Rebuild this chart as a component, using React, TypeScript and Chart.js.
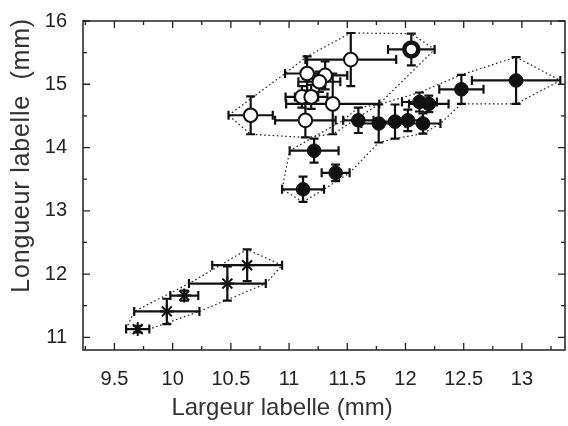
import React, { useEffect, useRef } from 'react';
import { Chart, registerables } from 'chart.js';

Chart.register(...registerables);

// ---- axis ticks and titles ----
const xTicks = [9.5, 10, 10.5, 11, 11.5, 12, 12.5, 13];
const xMinorTicks = [9.25, 9.75, 10.25, 10.75, 11.25, 11.75, 12.25, 12.75, 13.25];
const yTicks = [11, 12, 13, 14, 15, 16];
const yMinorTicks = [11.5, 12.5, 13.5, 14.5, 15.5];
const xTitle = 'Largeur labelle (mm)';
const yTitle = 'Longueur labelle  (mm)';

// ---- open circles ----
const openX = [10.67, 11.14, 11.11, 11.19, 11.155, 11.31, 11.26, 11.375, 11.53, 12.05];
const openY = [14.51, 14.43, 14.80, 14.80, 15.17, 15.14, 15.04, 14.69, 15.39, 15.55];
const openXErr = [0.19, 0.26, 0.14, 0.14, 0.19, 0.19, 0.18, 0.40, 0.39, 0.20];
const openYErr = [0.30, 0.27, 0.17, 0.19, 0.27, 0.22, 0.16, 0.48, 0.42, 0.25];
const openHeavyIndex = 9;

// ---- filled circles ----
const filledX = [11.12, 11.215, 11.40, 11.595, 11.77, 11.91, 12.02, 12.15, 12.12, 12.20, 12.48, 12.95];
const filledY = [13.34, 13.95, 13.60, 14.43, 14.38, 14.41, 14.43, 14.38, 14.72, 14.69, 14.92, 15.06];
const filledXErr = [0.18, 0.21, 0.12, 0.13, 0.15, 0.12, 0.12, 0.15, 0.15, 0.17, 0.19, 0.38];
const filledYErr = [0.20, 0.19, 0.13, 0.20, 0.30, 0.27, 0.17, 0.16, 0.15, 0.13, 0.23, 0.37];

// ---- asterisks ----
const starX = [9.70, 9.95, 10.10, 10.47, 10.64];
const starY = [11.13, 11.41, 11.66, 11.85, 12.14];
const starXErr = [0.10, 0.28, 0.12, 0.33, 0.30];
const starYErr = [0.05, 0.20, 0.08, 0.27, 0.25];

// ---- dotted envelopes: point index + error-bar end (L, R, T, B) ----
const openHull = ['0L', '4L', '4T', '8T', '9T', '9R', '7R', '7B', '1B', '0B'];
const filledHull = ['0B', '0R', '2R', '4B', '5B', '7B', '7R', '10B', '11B', '11R', '11T', '10T', '8T', '4T', '3T', '3L', '1L', '0L'];
const starHull = ['0L', '1L', '3L', '4T', '4R', '3R', '1R', '0R'];

const FONT = "'Liberation Sans', Arial, Helvetica, sans-serif";

type Group = { x: number[]; y: number[]; xe: number[]; ye: number[]; hull: string[] };
const groups: Group[] = [
  { x: openX, y: openY, xe: openXErr, ye: openYErr, hull: openHull },
  { x: filledX, y: filledY, xe: filledXErr, ye: filledYErr, hull: filledHull },
  { x: starX, y: starY, xe: starXErr, ye: starYErr, hull: starHull },
];

const toPts = (xs: number[], ys: number[]) => xs.map((v, i) => ({ x: v, y: ys[i] }));

function hullVertex(g: Group, key: string): [number, number] {
  const i = parseInt(key, 10);
  const side = key.slice(-1);
  let x = g.x[i];
  let y = g.y[i];
  if (side === 'L') x -= g.xe[i];
  if (side === 'R') x += g.xe[i];
  if (side === 'T') y += g.ye[i];
  if (side === 'B') y -= g.ye[i];
  return [x, y];
}

const zeroPad = (s: any) => {
  s.paddingLeft = 0;
  s.paddingRight = 0;
  s.paddingTop = 0;
  s.paddingBottom = 0;
};

const decorPlugin = {
  id: 'decor',
  beforeDatasetsDraw(chart: any) {
    const { ctx } = chart;
    const xs = chart.scales.x;
    const ys = chart.scales.y;
    ctx.save();
    // envelopes
    ctx.strokeStyle = '#222';
    ctx.lineWidth = 1.2;
    ctx.setLineDash([1.6, 2.6]);
    groups.forEach((g) => {
      ctx.beginPath();
      g.hull.forEach((k, j) => {
        const [vx, vy] = hullVertex(g, k);
        const px = xs.getPixelForValue(vx);
        const py = ys.getPixelForValue(vy);
        if (j === 0) ctx.moveTo(px, py);
        else ctx.lineTo(px, py);
      });
      ctx.closePath();
      ctx.stroke();
    });
    ctx.setLineDash([]);
    // error bars
    ctx.strokeStyle = '#111';
    ctx.lineWidth = 2.2;
    const cap = 4.5;
    groups.forEach((g) => {
      g.x.forEach((xv, i) => {
        const yv = g.y[i];
        const x0 = xs.getPixelForValue(xv - g.xe[i]);
        const x1 = xs.getPixelForValue(xv + g.xe[i]);
        const yc = ys.getPixelForValue(yv);
        const xc = xs.getPixelForValue(xv);
        const y0 = ys.getPixelForValue(yv - g.ye[i]);
        const y1 = ys.getPixelForValue(yv + g.ye[i]);
        ctx.beginPath();
        ctx.moveTo(x0, yc); ctx.lineTo(x1, yc);
        ctx.moveTo(x0, yc - cap); ctx.lineTo(x0, yc + cap);
        ctx.moveTo(x1, yc - cap); ctx.lineTo(x1, yc + cap);
        ctx.moveTo(xc, y0); ctx.lineTo(xc, y1);
        ctx.moveTo(xc - cap, y0); ctx.lineTo(xc + cap, y0);
        ctx.moveTo(xc - cap, y1); ctx.lineTo(xc + cap, y1);
        ctx.stroke();
      });
    });
    ctx.restore();
  },
  afterDraw(chart: any) {
    const { ctx, chartArea: a } = chart;
    const xs = chart.scales.x;
    const ys = chart.scales.y;
    ctx.save();
    ctx.strokeStyle = '#222';
    ctx.lineWidth = 1.5;
    ctx.strokeRect(a.left, a.top, a.right - a.left, a.bottom - a.top);
    ctx.lineWidth = 1.3;
    ctx.beginPath();
    const tickX = (v: number, len: number) => {
      const p = xs.getPixelForValue(v);
      ctx.moveTo(p, a.bottom); ctx.lineTo(p, a.bottom - len);
      ctx.moveTo(p, a.top); ctx.lineTo(p, a.top + len);
    };
    const tickY = (v: number, len: number) => {
      const p = ys.getPixelForValue(v);
      ctx.moveTo(a.left, p); ctx.lineTo(a.left + len, p);
      ctx.moveTo(a.right, p); ctx.lineTo(a.right - len, p);
    };
    xTicks.forEach((v) => tickX(v, 7));
    xMinorTicks.forEach((v) => tickX(v, 4));
    yTicks.forEach((v) => tickY(v, 7));
    yMinorTicks.forEach((v) => tickY(v, 4));
    ctx.stroke();

    // axis titles
    ctx.fillStyle = '#333';
    ctx.textBaseline = 'middle';
    ctx.font = `24px ${FONT}`;
    ctx.textAlign = 'center';
    ctx.fillText(xTitle, xs.getPixelForValue(10.94), 408);
    ctx.translate(22, ys.getPixelForValue(16) - 3);
    ctx.rotate(-Math.PI / 2);
    ctx.font = `25px ${FONT}`;
    try { (ctx as any).letterSpacing = '0.8px'; } catch (e) { /* ignore */ }
    ctx.textAlign = 'right';
    ctx.fillText(yTitle, 0, 0);
    ctx.restore();
  },
};

export default function App() {
  const ref = useRef<HTMLCanvasElement | null>(null);
  useEffect(() => {
    document.body.style.margin = '0';
    if (!ref.current) return;
    const chart = new Chart(ref.current, {
      type: 'scatter',
      data: {
        datasets: [
          {
            data: toPts(openX, openY),
            pointStyle: 'circle',
            pointRadius: openX.map((_, i) => (i === openHeavyIndex ? 7 : 6.8)),
            pointBorderWidth: openX.map((_, i) => (i === openHeavyIndex ? 4.5 : 2)),
            pointBackgroundColor: '#fff',
            pointBorderColor: '#111',
          },
          {
            data: toPts(filledX, filledY),
            pointStyle: 'circle',
            pointRadius: 6.8,
            pointBorderWidth: 1,
            pointBackgroundColor: '#111',
            pointBorderColor: '#111',
          },
          {
            data: toPts(starX, starY),
            pointStyle: 'star',
            pointRadius: 7,
            pointBorderWidth: 2,
            pointBackgroundColor: '#111',
            pointBorderColor: '#111',
          },
        ],
      },
      options: {
        animation: false,
        responsive: false,
        events: [],
        layout: { autoPadding: false, padding: { top: 21, right: 3, left: 0, bottom: 0 } },
        plugins: { legend: { display: false }, tooltip: { enabled: false } },
        scales: {
          x: {
            type: 'linear',
            min: 9.23,
            max: 13.37,
            afterBuildTicks: (s: any) => { s.ticks = xTicks.map((v) => ({ value: v })); },
            afterFit: (s: any) => { s.height = 76; zeroPad(s); },
            grid: { display: false, drawTicks: false },
            border: { display: false },
            ticks: {
              padding: 17,
              autoSkip: false,
              maxRotation: 0,
              color: '#222',
              font: { family: FONT, size: 20 },
              callback: (v: any) => String(v),
            },
            title: { display: false },
          },
          y: {
            type: 'linear',
            min: 10.8,
            max: 16,
            afterBuildTicks: (s: any) => { s.ticks = yTicks.map((v) => ({ value: v })); },
            afterFit: (s: any) => { s.width = 83; zeroPad(s); },
            grid: { display: false, drawTicks: false },
            border: { display: false },
            ticks: {
              padding: 16,
              autoSkip: false,
              color: '#222',
              font: { family: FONT, size: 20 },
              callback: (v: any) => String(v),
            },
            title: { display: false },
          },
        },
      },
      plugins: [decorPlugin],
    } as any);
    return () => chart.destroy();
  }, []);
  return <canvas ref={ref} width={568} height={426} style={{ display: 'block' }} />;
}
